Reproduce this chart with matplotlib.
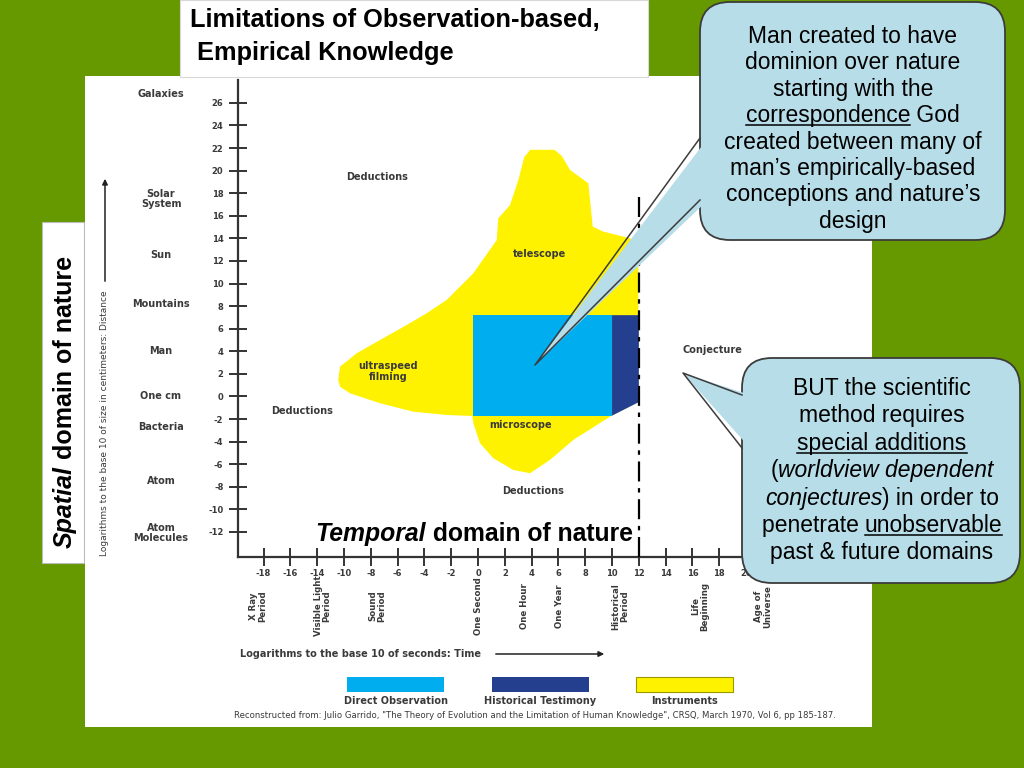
import numpy as np
import matplotlib
matplotlib.use('Agg')
from matplotlib import pyplot as plt
from matplotlib.patches import Polygon, Rectangle, FancyBboxPatch
from matplotlib.transforms import blended_transform_factory

# ---- chart data (log10 units) ----
ytick_vals = list(range(-12, 27, 2))
# the original time axis skips -12, so tick positions and labels differ
xtick_pos = [-16, -14, -12] + list(range(-10, 21, 2))
xtick_lab = ['-18', '-16', '-14'] + [str(v) for v in range(-10, 21, 2)]

size_names = ['Galaxies', 'Solar\nSystem', 'Sun', 'Mountains', 'Man', 'One cm',
              'Bacteria', 'Atom', 'Atom\nMolecules']
size_pos = [26.8, 17.5, 12.5, 8.2, 4.0, 0.0, -2.7, -7.5, -12.1]

time_names = ['X Ray\nPeriod', 'Visible Light\nPeriod', 'Sound\nPeriod', 'One Second',
              'One Hour', 'One Year', 'Historical\nPeriod', 'Life\nBeginning', 'Age of\nUniverse']
time_pos = [-16.4, -11.6, -7.5, 0.0, 3.5, 6.1, 10.6, 16.6, 21.3]

# instruments region outline
instr_x = [-10.43, -10.30, -9.05, -7.31, -5.32, -3.83, -2.34, -0.35, 1.40, 1.51, 2.39, 3.01,
           3.45, 3.9, 5.7, 6.25, 6.87, 8.23, 8.56, 9.35, 11.34, 11.96, 11.96, 11.96, 9.85,
           7.11, 5.37, 3.88, 2.63, 1.14, 0.15, -0.35, -0.43, -2.34, -4.83, -7.31, -9.55,
           -10.30]
instr_y = [1.46, 2.64, 3.83, 5.00, 6.33, 7.37, 8.55, 10.91, 13.86, 15.78, 16.96, 19.18,
           21.2, 21.85, 21.85, 21.3, 20.06, 18.88, 15.04, 14.60, 14.01, 13.71, 7.22, -0.46,
           -1.79, -3.85, -5.62, -6.80, -6.51, -5.47, -4.15, -2.37, -1.73, -1.64, -1.35,
           -0.60, 0.28, 0.87]

direct_x = [-0.4, 10.0]
direct_y = [-1.7, 7.2]
hist_x = [10.0, 12.0, 12.0, 10.0]
hist_y = [7.2, 7.2, -0.5, -1.7]
limit_x = 12.0
limit_top = 17.8

region_text = ['Deductions', 'Deductions', 'Deductions', 'telescope', 'ultraspeed\nfilming',
               'microscope', 'Conjecture']
region_x = [-7.5, -13.1, 4.1, 4.6, -6.7, 3.2, 17.5]
region_y = [19.4, -1.3, -8.4, 12.6, 2.2, -2.5, 4.1]

legend_names = ['Direct Observation', 'Historical Testimony', 'Instruments']
c_direct = '#00aeef'
c_hist = '#253f8f'
c_instr = '#fff200'
legend_colors = [c_direct, c_hist, c_instr]

GREEN = '#669900'
BUBBLE = '#b7dde8'
GREY = '#3a3a3a'
SLIDE_FONT = 'Liberation Sans'

fig = plt.figure(figsize=(10.24, 7.68), dpi=100, facecolor=GREEN)

bg = fig.add_axes([0, 0, 1, 1], zorder=0)
bg.set_xlim(0, 1024); bg.set_ylim(768, 0); bg.axis('off'); bg.patch.set_visible(False)

ax = fig.add_axes([238/1024, 1-557/768, 522/1024, 477/768], zorder=1)
ax.patch.set_visible(False)

fg = fig.add_axes([0, 0, 1, 1], zorder=2)
fg.set_xlim(0, 1024); fg.set_ylim(768, 0); fg.axis('off'); fg.patch.set_visible(False)

# white panels
bg.add_patch(Rectangle((85, 76), 787, 651, fc='white', ec='none'))
bg.add_patch(Rectangle((180, 0), 468, 77, fc='white', ec='#d8d8d8', lw=0.8))
bg.add_patch(Rectangle((42, 222), 42, 341, fc='white', ec='#bbbbbb', lw=0.8))

# ---- the chart ----
ax.set_xlim(-17.91, 21.04)
ax.set_ylim(-14.22, 28.03)
ax.fill(instr_x, instr_y, color=c_instr, lw=0, zorder=1)
ax.add_patch(Rectangle((direct_x[0], direct_y[0]), direct_x[1]-direct_x[0],
                       direct_y[1]-direct_y[0], fc=c_direct, ec='none', zorder=2))
ax.fill(hist_x, hist_y, color=c_hist, lw=0, zorder=2)
ax.plot([limit_x, limit_x], [-14.22, limit_top], color='black', lw=1.6,
        dashes=(9, 3, 2, 3), zorder=3)

for s in ['top', 'right']:
    ax.spines[s].set_visible(False)
for s in ['left', 'bottom']:
    ax.spines[s].set_color('#333333')
    ax.spines[s].set_linewidth(1.6)

ax.set_yticks(ytick_vals)
ax.set_yticklabels([str(v) for v in ytick_vals])
ax.set_xticks(xtick_pos)
ax.set_xticklabels(xtick_lab)
ax.tick_params(axis='y', direction='inout', length=13, width=1.4, color='#333333',
               pad=4, labelsize=6, labelcolor=GREY)
ax.tick_params(axis='x', direction='inout', length=13, width=1.4, color='#333333',
               pad=2, labelsize=6, labelcolor=GREY)
for lab in ax.get_xticklabels() + ax.get_yticklabels():
    lab.set_fontweight('bold')

# size names sit in a column left of the axis
name_tr = blended_transform_factory(bg.transData, ax.transData)
for name, v in zip(size_names, size_pos):
    ax.text(161, v, name, transform=name_tr, ha='center', va='center', fontsize=7,
            fontweight='bold', color=GREY, linespacing=1.0)

for name, p in zip(time_names, time_pos):
    ax.text(p, -0.103, name, transform=ax.get_xaxis_transform(), rotation=90,
            ha='center', va='center', multialignment='center', fontsize=6.2,
            fontweight='bold', color=GREY, linespacing=1.0)

for s, x, y in zip(region_text, region_x, region_y):
    ax.text(x, y, s, ha='center', va='center', fontsize=7, fontweight='bold',
            color=GREY, linespacing=1.1, zorder=4)

# axis captions
fg.text(105, 556, 'Logarithms to the base 10 of size in centimeters: Distance',
        rotation=90, ha='center', va='bottom', fontsize=6.5, color=GREY)
fg.annotate('', xy=(105, 176), xytext=(105, 284),
            arrowprops=dict(arrowstyle='-|>', color='#222222', lw=1.1, mutation_scale=8))
fg.text(240, 654, 'Logarithms to the base 10 of seconds: Time', ha='left', va='center',
        fontsize=7, fontweight='bold', color=GREY)
fg.annotate('', xy=(607, 654), xytext=(493, 654),
            arrowprops=dict(arrowstyle='-|>', color='#222222', lw=1.1, mutation_scale=8))

# legend
for i, (name, col) in enumerate(zip(legend_names, legend_colors)):
    x0 = 347 + i * 144.5
    fg.add_patch(Rectangle((x0, 677), 97, 15, fc=col,
                           ec='#999900' if col == c_instr else 'none', lw=0.8))
    fg.text(x0 + 48.5, 701, name, ha='center', va='center', fontsize=7,
            fontweight='bold', color=GREY)
fg.text(535, 715, 'Reconstructed from: Julio Garrido, "The Theory of Evolution and the '
        'Limitation of Human Knowledge", CRSQ, March 1970, Vol 6, pp 185-187.',
        ha='center', va='center', fontsize=6.1, color=GREY)


# ---- slide text ----
def seg_width(a, s, **kw):
    r = fig.canvas.get_renderer()
    t1 = a.text(0, 0, s + '|', **kw)
    t2 = a.text(0, 0, '|', **kw)
    w = t1.get_window_extent(r).width - t2.get_window_extent(r).width
    t1.remove(); t2.remove()
    return w


def rich_line(a, cx, y, segs, size, weight='normal', rot=0):
    widths = []
    for s, style, ul in segs:
        kw = dict(fontsize=size, fontweight=weight, fontstyle=style, family=SLIDE_FONT)
        widths.append(seg_width(a, s, **kw))
    start = -sum(widths) / 2
    for (s, style, ul), w in zip(segs, widths):
        kw = dict(fontsize=size, fontweight=weight, fontstyle=style, family=SLIDE_FONT,
                  color='black')
        if rot == 0:
            a.text(cx + start, y, s, ha='left', va='baseline', **kw)
            if ul:
                wu = seg_width(a, s.strip(), **kw)
                a.plot([cx + start, cx + start + wu], [y + 3, y + 3], color='black', lw=1.1)
        else:
            a.text(cx, y - start, s, rotation=90, rotation_mode='anchor', ha='left',
                   va='baseline', **kw)
        start += w


fg.text(190, 20, 'Limitations of Observation-based,', ha='left', va='center',
        fontsize=18.3, fontweight='bold', family=SLIDE_FONT)
fg.text(197, 53, 'Empirical Knowledge', ha='left', va='center',
        fontsize=18.3, fontweight='bold', family=SLIDE_FONT)

rich_line(fg, 474, 541, [('Temporal', 'italic', False), (' domain of nature', 'normal', False)],
          17.8, weight='bold')
rich_line(fg, 72, 402, [('Spatial', 'italic', False), (' domain of nature', 'normal', False)],
          18, weight='bold', rot=90)


def callout(box, base, tip, lines, cx, y0, step, size=16.5):
    x0, y0b, x1, y1 = box
    fg.add_patch(FancyBboxPatch((x0, y0b), x1 - x0, y1 - y0b,
                                boxstyle='round,pad=0,rounding_size=30',
                                fc=BUBBLE, ec='#3c3c3c', lw=1.3))
    fg.add_patch(Polygon([(base[0][0] + 8, base[0][1]), tip, (base[1][0] + 8, base[1][1])],
                         closed=True, fc=BUBBLE, ec='none'))
    fg.plot([base[0][0], tip[0], base[1][0]], [base[0][1], tip[1], base[1][1]],
            color='#3c3c3c', lw=1.1)
    for i, segs in enumerate(lines):
        rich_line(fg, cx, y0 + i * step, segs, size)


N, I = 'normal', 'italic'
lines1 = [[('Man created to have', N, False)],
          [('dominion over nature', N, False)],
          [('starting with the', N, False)],
          [('correspondence', N, True), (' God', N, False)],
          [('created between many of', N, False)],
          [('man\u2019s empirically-based', N, False)],
          [('conceptions and nature\u2019s', N, False)],
          [('design', N, False)]]
lines2 = [[('BUT the scientific', N, False)],
          [('method requires', N, False)],
          [('special additions', N, True)],
          [('(', N, False), ('worldview dependent', I, False)],
          [('conjectures', I, False), (') in order to', N, False)],
          [('penetrate ', N, False), ('unobservable', N, True)],
          [('past & future domains', N, False)]]

callout((700, 2, 1005, 240), [(700, 138), (700, 200)], (535, 365), lines1, 853, 43, 26.4)
callout((742, 358, 1020, 583), [(742, 395), (742, 448)], (683, 373), lines2, 882, 395, 27.4)

fig.savefig('out.png', dpi=100, facecolor=fig.get_facecolor())
